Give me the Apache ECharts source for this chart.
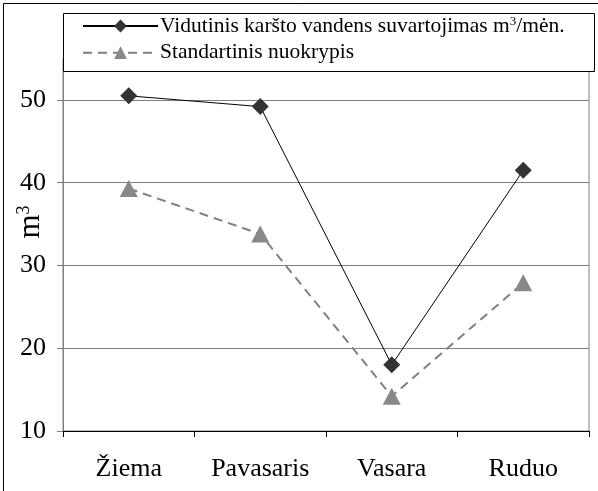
<!DOCTYPE html>
<html>
<head>
<meta charset="utf-8">
<script src="https://cdn.jsdelivr.net/npm/echarts@6/dist/echarts.min.js"></script>
<style>
  html, body { margin: 0; padding: 0; background: #fff; }
  #chart { width: 598px; height: 491px; }
</style>
</head>
<body>
<div id="chart"></div>
<script>
// kategorijos (metų laikai)
const seasons = ['Žiema', 'Pavasaris', 'Vasara', 'Ruduo']
// vidutinis karšto vandens suvartojimas
const avgUse = [50.5, 49.2, 18.0, 41.5]
// standartinis nuokrypis
const stdDev = [39.3, 33.8, 14.2, 27.9]
// y ašies žymės
const yMin = 10
const yMax = 55
const yStep = 10

const serif = '"Liberation Serif", "DejaVu Serif", serif'

const chart = echarts.init(document.getElementById('chart'))

const option = {
  animation: false,
  backgroundColor: '#fff',
  textStyle: { fontFamily: serif },
  grid: {
    left: 63,
    top: 58.6,
    right: 9,
    bottom: 60,
    containLabel: false,
    outerBoundsMode: 'none',
    show: true,
    borderColor: '#808080',
    borderWidth: 1,
    backgroundColor: 'transparent'
  },
  graphic: [
    // išorinis rėmelis
    {
      type: 'rect',
      z: 0,
      silent: true,
      shape: { x: 3.5, y: 3.5, width: 620, height: 620 },
      style: { fill: 'none', stroke: '#000', lineWidth: 1 }
    },
    // legendos rėmelis
    {
      type: 'rect',
      z: 5,
      silent: true,
      shape: { x: 63.5, y: 13.5, width: 531, height: 58 },
      style: { fill: '#fff', stroke: '#000', lineWidth: 1 }
    },
    // y ašies pavadinimas
    {
      type: 'text',
      z: 5,
      silent: true,
      x: 31,
      y: 222,
      rotation: Math.PI / 2,
      style: {
        text: '{m|m}{s|3}',
        align: 'center',
        verticalAlign: 'middle',
        fill: '#000',
        rich: {
          m: { fontFamily: serif, fontSize: 31, lineHeight: 32, fill: '#000' },
          s: { fontFamily: serif, fontSize: 18, lineHeight: 32, verticalAlign: 'top', padding: [0, 0, 12, 0], fill: '#000' }
        }
      }
    }
  ],
  legend: {
    orient: 'vertical',
    left: 77,
    top: 10,
    z: 10,
    itemWidth: 75,
    itemHeight: 16,
    itemGap: 4.7,
    padding: 5,
    textStyle: {
      fontFamily: serif,
      fontSize: 21.5,
      color: '#000',
      lineHeight: 22,
      padding: [0, 0, 0, -3],
      rich: {
        sup: { fontFamily: serif, fontSize: 13, verticalAlign: 'top', lineHeight: 22, padding: [0, 0, 9, 0] }
      }
    },
    formatter: function (name) {
      if (name.indexOf('m3') >= 0) {
        const parts = name.split('m3')
        return parts[0] + 'm{sup|3}' + parts[1]
      }
      return name
    },
    data: ['Vidutinis karšto vandens suvartojimas m3/mėn.', 'Standartinis nuokrypis']
  },
  xAxis: {
    type: 'category',
    data: seasons,
    boundaryGap: true,
    axisLine: { lineStyle: { color: '#000', width: 1 } },
    axisTick: { show: true, length: 6, lineStyle: { color: '#000' } },
    axisLabel: { fontFamily: serif, fontSize: 26, color: '#000', margin: 25 },
    splitLine: { show: false }
  },
  yAxis: {
    type: 'value',
    min: yMin,
    max: yMax,
    interval: yStep,
    axisLine: { show: true, lineStyle: { color: '#808080', width: 1 } },
    axisTick: { show: true, length: 6, lineStyle: { color: '#808080' } },
    axisLabel: {
      fontFamily: serif,
      fontSize: 26,
      color: '#000',
      margin: 17,
      showMaxLabel: false
    },
    splitLine: { show: true, lineStyle: { color: '#808080', width: 1 } }
  },
  series: [
    {
      name: 'Vidutinis karšto vandens suvartojimas m3/mėn.',
      type: 'line',
      data: avgUse,
      symbol: 'diamond',
      symbolSize: 17,
      z: 3,
      lineStyle: { color: '#000', width: 1 },
      itemStyle: { color: '#333', borderWidth: 0 }
    },
    {
      name: 'Standartinis nuokrypis',
      type: 'line',
      data: stdDev,
      symbol: 'triangle',
      symbolSize: [18, 17],
      z: 2,
      lineStyle: { color: '#808080', width: 2, type: [9, 6] },
      itemStyle: { color: '#888', borderWidth: 0 }
    }
  ]
}

chart.setOption(option)
</script>
</body>
</html>
